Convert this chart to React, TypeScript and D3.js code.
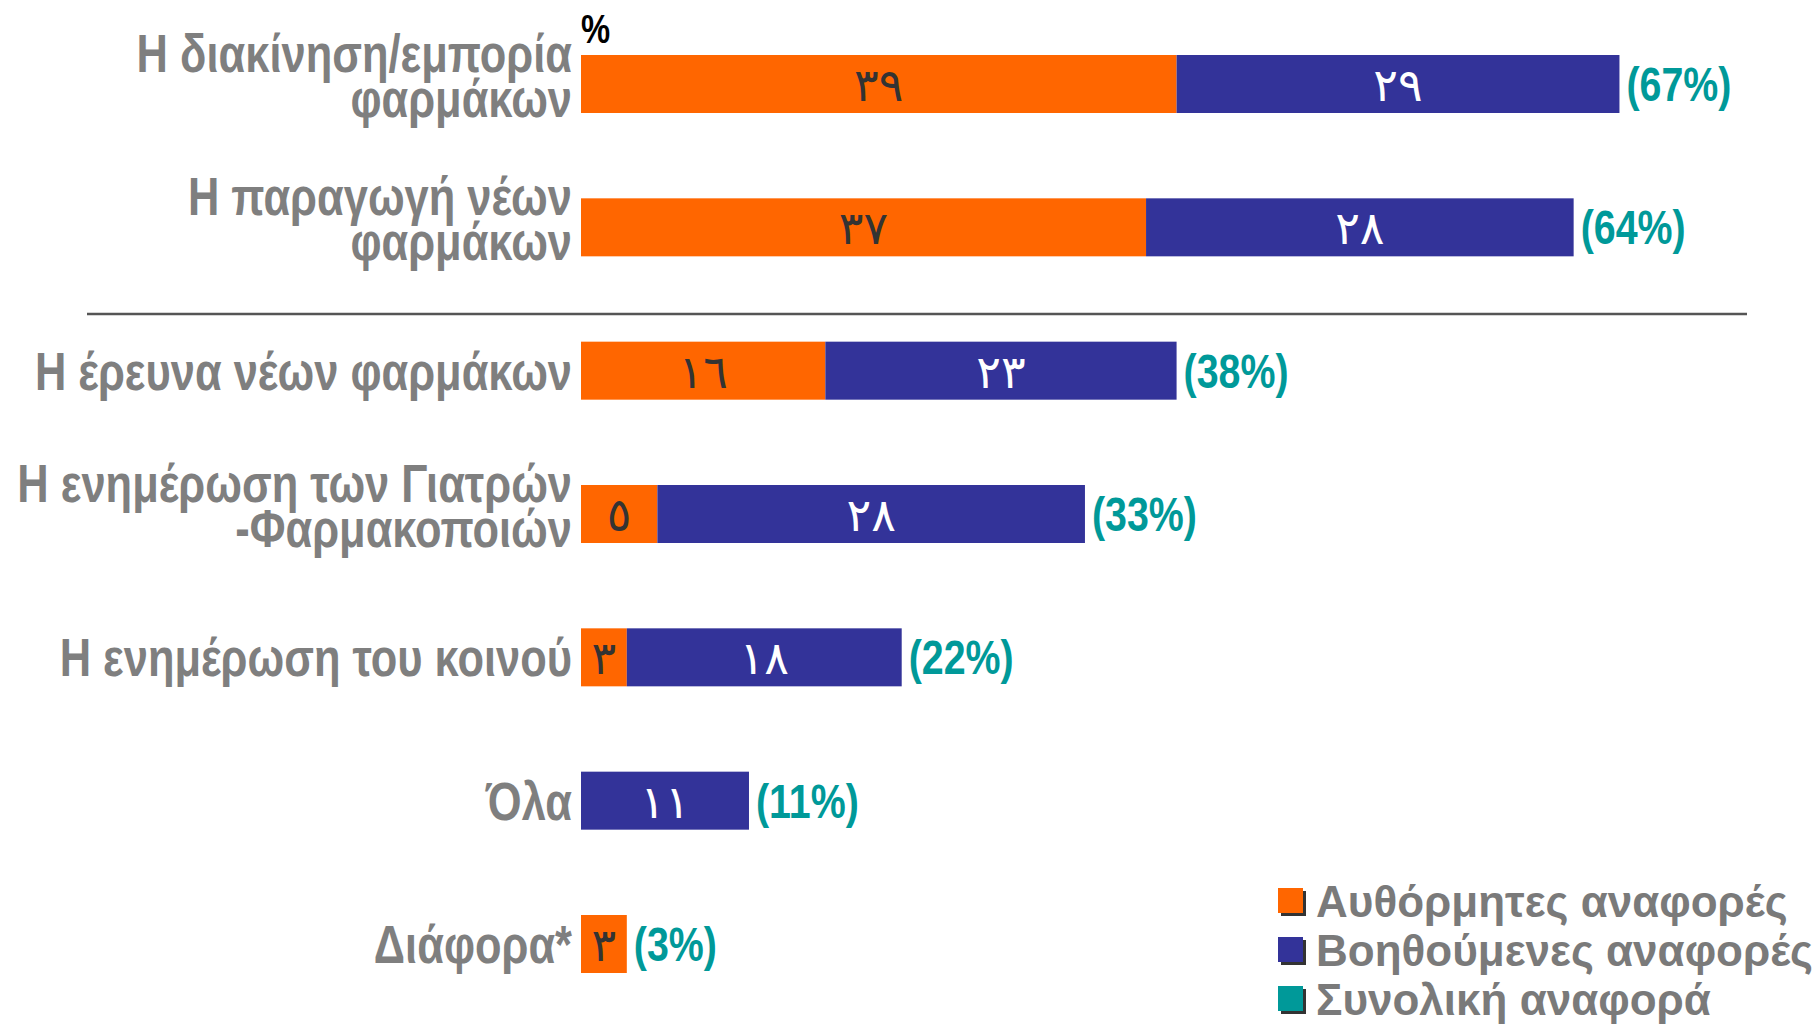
import React from 'react';
import * as d3 from 'd3';

const categories = [
  'Η διακίνηση/εμπορία\nφαρμάκων',
  'Η παραγωγή νέων\nφαρμάκων',
  'Η έρευνα νέων φαρμάκων',
  'Η ενημέρωση των Γιατρών\n-Φαρμακοποιών',
  'Η ενημέρωση του κοινού',
  'Όλα',
  'Διάφορα*',
];
const spontaneous = [39, 37, 16, 5, 3, 0, 3];
const assisted = [29, 28, 23, 28, 18, 11, 0];
const totals = [67, 64, 38, 33, 22, 11, 3];

const seriesKeys = ['spontaneous', 'assisted'];
const legendLabels = ['Αυθόρμητες αναφορές', 'Βοηθούμενες αναφορές', 'Συνολική αναφορά'];
const colors = ['#ff6600', '#333399', '#009999'];
const valueColors = ['#333333', '#ffffff'];

const W = 1818;
const H = 1030;

// western digits -> arabic-indic, as in the original slide
const arabicDigits = '٠١٢٣٤٥٦٧٨٩';
const toArabic = (n: number) =>
  String(n)
    .split('')
    .map((c) => arabicDigits[+c])
    .join('');

// no narrow font installed, so squeeze Liberation Sans Bold horizontally
const sansFont = '"Liberation Sans", Arial, sans-serif';
const narrow = 0.82;

const App = () => {
  const table = categories.map((c, i) => ({
    category: c,
    spontaneous: spontaneous[i],
    assisted: assisted[i],
  }));
  const stacked = d3.stack<any>().keys(seriesKeys)(table);

  // 1 percentage point = ~15.3px in the original
  const x = d3.scaleLinear().domain([0, 70]).range([581, 1650]);
  const y = d3.scalePoint<string>().domain(categories).range([84, 944]);
  const barH = 58;

  const lineY = (y(categories[1])! + y(categories[2])!) / 2 + 15;

  return (
    <div style={{ position: 'absolute', left: 0, top: 0 }}>
      <svg width={W} height={H} style={{ display: 'block', background: '#fff' }}>
        {/* % unit */}
        <text
          transform={`translate(${x(0)},43) scale(${narrow},1)`}
          fontFamily={sansFont}
          fontWeight="bold"
          fontSize={40}
          fill="#000"
        >
          %
        </text>

        {/* category labels */}
        {categories.map((c) => {
          const lines = c.split('\n');
          const cy = y(c)!;
          // two-line labels sit with a tight line spacing
          const baselines = lines.length === 1 ? [19] : [-12, 33];
          return (
            <text
              key={c}
              transform={`translate(572,${cy}) scale(${narrow},1)`}
              textAnchor="end"
              fontFamily={sansFont}
              fontWeight="bold"
              fontSize={53}
              fill="#7f7f7f"
            >
              {lines.map((l, j) => (
                <tspan key={j} x={0} y={baselines[j]}>
                  {l}
                </tspan>
              ))}
            </text>
          );
        })}

        {/* separator */}
        <line x1={87} x2={1747} y1={lineY} y2={lineY} stroke="#555" strokeWidth={2.5} />

        {/* stacked bars */}
        {stacked.map((s, si) => (
          <g key={s.key}>
            {s.map((d, i) => {
              const v = d[1] - d[0];
              if (!v) return null;
              const cy = y(categories[i])!;
              return (
                <g key={i}>
                  <rect
                    x={x(d[0])}
                    y={cy - barH / 2}
                    width={x(d[1]) - x(d[0])}
                    height={barH}
                    fill={colors[si]}
                  />
                  <text
                    x={(x(d[0]) + x(d[1])) / 2}
                    y={cy + 17}
                    textAnchor="middle"
                    fontFamily='"DejaVu Sans", sans-serif'
                    fontSize={46}
                    fill={valueColors[si]}
                  >
                    {toArabic(v)}
                  </text>
                </g>
              );
            })}
          </g>
        ))}

        {/* totals */}
        {categories.map((c, i) => (
          <text
            key={c}
            transform={`translate(${x(spontaneous[i] + assisted[i]) + 7},${y(c)! + 17}) scale(${narrow},1)`}
            fontFamily={sansFont}
            fontWeight="bold"
            fontSize={48}
            fill={colors[2]}
          >
            {`(${totals[i]}%)`}
          </text>
        ))}

        {/* legend */}
        {legendLabels.map((l, i) => {
          const cy = 901 + i * 49;
          return (
            <g key={l}>
              <rect x={1281} y={cy - 10} width={25} height={25} fill="#333" />
              <rect x={1278} y={cy - 13} width={25} height={25} fill={colors[i]} />
              <text
                x={1316}
                y={cy + 16}
                fontFamily={sansFont}
                fontWeight="bold"
                fontSize={44}
                fill="#7a7a7a"
              >
                {l}
              </text>
            </g>
          );
        })}
      </svg>
    </div>
  );
};

export default App;
